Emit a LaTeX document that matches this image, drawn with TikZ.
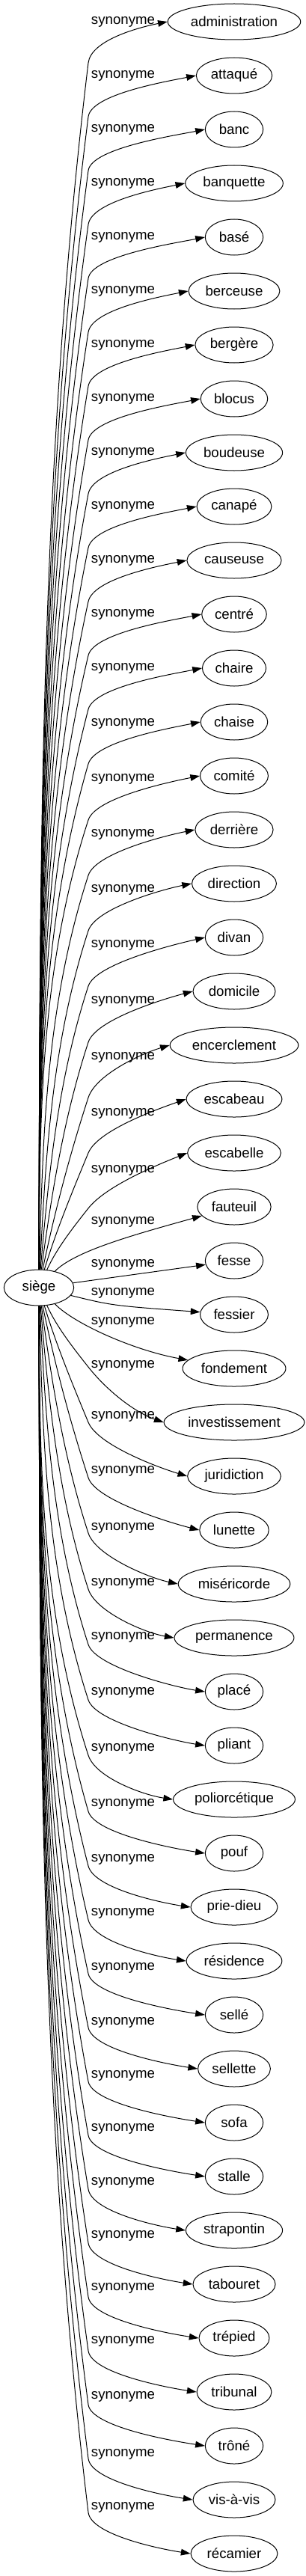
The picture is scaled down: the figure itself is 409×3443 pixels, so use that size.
\documentclass[tikz,border=0pt]{standalone}
\usepackage{fontspec}
\setmainfont{Liberation Sans}
\usepackage{tikz}
\usetikzlibrary{shapes}
\usetikzlibrary{arrows.meta}

\begin{document}
\begin{tikzpicture}[x=0.75pt,y=-0.75pt,
word/.style={draw,ellipse,line width=0.75pt,inner xsep=3.5pt,minimum width=58pt,minimum height=36pt,font=\fontsize{14pt}{17pt}\selectfont},
rel/.style={inner sep=0pt,font=\fontsize{14pt}{17pt}\selectfont},
syn/.style={line width=0.75pt,-{Triangle[length=9.5pt,width=6.5pt]}}]
\useasboundingbox (0,0) rectangle (409,3443);
\node[word,minimum width=70pt] (siege) at (52,1721) {siège};
\node[word] (administration) at (313,29) {administration};
\node[word] (attaque) at (313,101) {attaqué};
\node[word] (banc) at (313,173) {banc};
\node[word] (banquette) at (313,245) {banquette};
\node[word] (base) at (313,317) {basé};
\node[word] (berceuse) at (313,389) {berceuse};
\node[word] (bergere) at (313,461) {bergère};
\node[word] (blocus) at (313,533) {blocus};
\node[word] (boudeuse) at (313,605) {boudeuse};
\node[word] (canape) at (313,677) {canapé};
\node[word] (causeuse) at (313,749) {causeuse};
\node[word] (centre) at (313,821) {centré};
\node[word] (chaire) at (313,893) {chaire};
\node[word] (chaise) at (313,965) {chaise};
\node[word] (comite) at (313,1037) {comité};
\node[word] (derriere) at (313,1109) {derrière};
\node[word] (direction) at (313,1181) {direction};
\node[word] (divan) at (313,1253) {divan};
\node[word] (domicile) at (313,1325) {domicile};
\node[word] (encerclement) at (313,1397) {encerclement};
\node[word] (escabeau) at (313,1469) {escabeau};
\node[word] (escabelle) at (313,1541) {escabelle};
\node[word] (fauteuil) at (313,1613) {fauteuil};
\node[word] (fesse) at (313,1685) {fesse};
\node[word] (fessier) at (313,1757) {fessier};
\node[word] (fondement) at (313,1829) {fondement};
\node[word] (investissement) at (313,1901) {investissement};
\node[word] (juridiction) at (313,1973) {juridiction};
\node[word] (lunette) at (313,2045) {lunette};
\node[word] (misericorde) at (313,2117) {miséricorde};
\node[word] (permanence) at (313,2189) {permanence};
\node[word] (place) at (313,2261) {placé};
\node[word] (pliant) at (313,2333) {pliant};
\node[word] (poliorcetique) at (313,2405) {poliorcétique};
\node[word] (pouf) at (313,2477) {pouf};
\node[word] (priedieu) at (313,2549) {prie-dieu};
\node[word] (residence) at (313,2621) {résidence};
\node[word] (selle) at (313,2693) {sellé};
\node[word] (sellette) at (313,2765) {sellette};
\node[word] (sofa) at (313,2837) {sofa};
\node[word] (stalle) at (313,2909) {stalle};
\node[word] (strapontin) at (313,2981) {strapontin};
\node[word] (tabouret) at (313,3053) {tabouret};
\node[word] (trepied) at (313,3125) {trépied};
\node[word] (tribunal) at (313,3197) {tribunal};
\node[word] (trone) at (313,3269) {trôné};
\node[word] (visavis) at (313,3341) {vis-à-vis};
\node[word] (recamier) at (313,3413) {récamier};
\draw[syn] (siege) .. controls (53,1159) and (53,622) .. (118,84) .. controls +(3.6,-30) and +(-40,8) .. (administration.west);
\draw[syn] (siege) .. controls (53,1183) and (53,670) .. (118,156) .. controls +(3.8,-30) and +(-40,8) .. (attaque.west);
\draw[syn] (siege) .. controls (53,1207) and (53,718) .. (118,228) .. controls +(4,-30) and +(-40,8) .. (banc.west);
\draw[syn] (siege) .. controls (53,1231) and (53,766) .. (118,300) .. controls +(4.2,-30) and +(-40,8) .. (banquette.west);
\draw[syn] (siege) .. controls (53,1255) and (53,814) .. (118,372) .. controls +(4.4,-30) and +(-40,8) .. (base.west);
\draw[syn] (siege) .. controls (53,1279) and (53,862) .. (118,444) .. controls +(4.7,-30) and +(-40,8) .. (berceuse.west);
\draw[syn] (siege) .. controls (53,1303) and (53,910) .. (118,516) .. controls +(5,-30) and +(-40,8) .. (bergere.west);
\draw[syn] (siege) .. controls (53,1327) and (53,958) .. (118,588) .. controls +(5.3,-30) and +(-40,8) .. (blocus.west);
\draw[syn] (siege) .. controls (53,1351) and (53,1006) .. (118,660) .. controls +(5.6,-30) and +(-40,8) .. (boudeuse.west);
\draw[syn] (siege) .. controls (53,1375) and (53,1054) .. (118,732) .. controls +(6.1,-30) and +(-40,8) .. (canape.west);
\draw[syn] (siege) .. controls (53,1399) and (53,1102) .. (118,804) .. controls +(6.6,-30) and +(-40,8) .. (causeuse.west);
\draw[syn] (siege) .. controls (53,1423) and (53,1150) .. (118,876) .. controls +(7.1,-30) and +(-40,8) .. (centre.west);
\draw[syn] (siege) .. controls (53,1447) and (53,1198) .. (118,948) .. controls +(7.8,-30) and +(-40,8) .. (chaire.west);
\draw[syn] (siege) .. controls (53,1472) and (53,1246) .. (118,1021) .. controls +(8.7,-30) and +(-40,8) .. (chaise.west);
\draw[syn] (siege) .. controls (53,1497) and (53,1296) .. (118,1096) .. controls +(9.7,-30) and +(-40,8) .. (comite.west);
\draw[syn] (siege) .. controls (57,1521) and (61,1346) .. (118,1170) .. controls +(9.75,-30) and +(-40,8) .. (derriere.west);
\draw[syn] (siege) .. controls (61,1546) and (69,1395) .. (118,1244) .. controls +(9.75,-30) and +(-40,8) .. (direction.west);
\draw[syn] (siege) .. controls (65,1571) and (77,1444) .. (118,1318) .. controls +(9.75,-30) and +(-40,9) .. (divan.west);
\draw[syn] (siege) .. controls (69,1596) and (85,1494) .. (118,1393) .. controls +(9.75,-30) and +(-40,10.5) .. (domicile.west);
\draw[syn] (siege) .. controls (73,1620) and (93,1544) .. (118,1467) .. controls +(9.75,-30) and +(-40,12) .. (encerclement.west);
\draw[syn] (siege) .. controls (75,1645) and (96.5,1593) .. (118,1541) .. controls +(12.4,-30) and +(-40,14) .. (escabeau.west);
\draw[syn] (siege) .. controls (75,1670) and (96.5,1642) .. (118,1615) .. controls +(23.5,-30) and +(-40,16) .. (escabelle.west);
\draw[syn] (siege) .. controls (100,1672) and (180,1650) .. (fauteuil);
\draw[syn] (siege) -- (fesse);
\draw[syn] (siege) .. controls (150,1745) .. (fessier);
\draw[syn] (siege) .. controls (100,1770) and (180,1805) .. (fondement);
\draw[syn] (siege) .. controls (75,1772) and (96.5,1800) .. (118,1827) .. controls +(23.5,30) and +(-40,-14) .. (investissement.west);
\draw[syn] (siege) .. controls (75,1797) and (96.5,1849) .. (118,1901) .. controls +(12.4,30) and +(-40,-12) .. (juridiction.west);
\draw[syn] (siege) .. controls (73,1822) and (93,1898) .. (118,1975) .. controls +(9.75,30) and +(-40,-10) .. (lunette.west);
\draw[syn] (siege) .. controls (69,1846) and (85,1948) .. (118,2049) .. controls +(9.75,30) and +(-40,-8.5) .. (misericorde.west);
\draw[syn] (siege) .. controls (65,1871) and (77,1998) .. (118,2124) .. controls +(9.75,30) and +(-40,-7) .. (permanence.west);
\draw[syn] (siege) .. controls (61,1896) and (69,2047) .. (118,2198) .. controls +(9.75,30) and +(-40,-6) .. (place.west);
\draw[syn] (siege) .. controls (57,1921) and (61,2096) .. (118,2272) .. controls +(9.75,30) and +(-40,-6) .. (pliant.west);
\draw[syn] (siege) .. controls (53,1945) and (53,2146) .. (118,2346) .. controls +(9.7,30) and +(-40,-6) .. (poliorcetique.west);
\draw[syn] (siege) .. controls (53,1970) and (53,2196) .. (118,2421) .. controls +(8.7,30) and +(-40,-6) .. (pouf.west);
\draw[syn] (siege) .. controls (53,1995) and (53,2244) .. (118,2494) .. controls +(7.8,30) and +(-40,-6) .. (priedieu.west);
\draw[syn] (siege) .. controls (53,2019) and (53,2292) .. (118,2566) .. controls +(7.1,30) and +(-40,-6) .. (residence.west);
\draw[syn] (siege) .. controls (53,2043) and (53,2340) .. (118,2638) .. controls +(6.6,30) and +(-40,-6) .. (selle.west);
\draw[syn] (siege) .. controls (53,2067) and (53,2388) .. (118,2710) .. controls +(6.1,30) and +(-40,-6) .. (sellette.west);
\draw[syn] (siege) .. controls (53,2091) and (53,2436) .. (118,2782) .. controls +(5.6,30) and +(-40,-6) .. (sofa.west);
\draw[syn] (siege) .. controls (53,2115) and (53,2484) .. (118,2854) .. controls +(5.3,30) and +(-40,-6) .. (stalle.west);
\draw[syn] (siege) .. controls (53,2139) and (53,2532) .. (118,2926) .. controls +(5,30) and +(-40,-6) .. (strapontin.west);
\draw[syn] (siege) .. controls (53,2163) and (53,2580) .. (118,2998) .. controls +(4.7,30) and +(-40,-6) .. (tabouret.west);
\draw[syn] (siege) .. controls (53,2187) and (53,2628) .. (118,3070) .. controls +(4.4,30) and +(-40,-6) .. (trepied.west);
\draw[syn] (siege) .. controls (53,2211) and (53,2676) .. (118,3142) .. controls +(4.2,30) and +(-40,-6) .. (tribunal.west);
\draw[syn] (siege) .. controls (53,2235) and (53,2724) .. (118,3214) .. controls +(4,30) and +(-40,-6) .. (trone.west);
\draw[syn] (siege) .. controls (53,2259) and (53,2772) .. (118,3286) .. controls +(3.8,30) and +(-40,-6) .. (visavis.west);
\draw[syn] (siege) .. controls (53,2283) and (53,2820) .. (118,3358) .. controls +(3.6,30) and +(-40,-6) .. (recamier.west);
\node[rel] (s0) at (164.5,29) {synonyme};
\node[rel] (s1) at (164.5,101) {synonyme};
\node[rel] (s2) at (164.5,173) {synonyme};
\node[rel] (s3) at (164.5,245) {synonyme};
\node[rel] (s4) at (164.5,317) {synonyme};
\node[rel] (s5) at (164.5,389) {synonyme};
\node[rel] (s6) at (164.5,461) {synonyme};
\node[rel] (s7) at (164.5,533) {synonyme};
\node[rel] (s8) at (164.5,605) {synonyme};
\node[rel] (s9) at (164.5,677) {synonyme};
\node[rel] (s10) at (164.5,749) {synonyme};
\node[rel] (s11) at (164.5,821) {synonyme};
\node[rel] (s12) at (164.5,893) {synonyme};
\node[rel] (s13) at (164.5,967) {synonyme};
\node[rel] (s14) at (164.5,1041) {synonyme};
\node[rel] (s15) at (164.5,1115) {synonyme};
\node[rel] (s16) at (164.5,1189) {synonyme};
\node[rel] (s17) at (164.5,1263) {synonyme};
\node[rel] (s18) at (164.5,1338) {synonyme};
\node[rel] (s19) at (164.5,1413) {synonyme};
\node[rel] (s20) at (164.5,1488) {synonyme};
\node[rel] (s21) at (164.5,1564) {synonyme};
\node[rel] (s22) at (164.5,1633) {synonyme};
\node[rel] (s23) at (164.5,1690) {synonyme};
\node[rel] (s24) at (164.5,1728) {synonyme};
\node[rel] (s25) at (164.5,1767) {synonyme};
\node[rel] (s26) at (164.5,1825) {synonyme};
\node[rel] (s27) at (164.5,1893) {synonyme};
\node[rel] (s28) at (164.5,1966) {synonyme};
\node[rel] (s29) at (164.5,2042) {synonyme};
\node[rel] (s30) at (164.5,2116) {synonyme};
\node[rel] (s31) at (164.5,2188) {synonyme};
\node[rel] (s32) at (164.5,2262) {synonyme};
\node[rel] (s33) at (164.5,2337) {synonyme};
\node[rel] (s34) at (164.5,2411) {synonyme};
\node[rel] (s35) at (164.5,2485) {synonyme};
\node[rel] (s36) at (164.5,2557) {synonyme};
\node[rel] (s37) at (164.5,2630) {synonyme};
\node[rel] (s38) at (164.5,2703) {synonyme};
\node[rel] (s39) at (164.5,2774) {synonyme};
\node[rel] (s40) at (164.5,2845) {synonyme};
\node[rel] (s41) at (164.5,2917) {synonyme};
\node[rel] (s42) at (164.5,2988) {synonyme};
\node[rel] (s43) at (164.5,3058) {synonyme};
\node[rel] (s44) at (164.5,3129) {synonyme};
\node[rel] (s45) at (164.5,3203) {synonyme};
\node[rel] (s46) at (164.5,3280) {synonyme};
\node[rel] (s47) at (164.5,3351) {synonyme};
\end{tikzpicture}
\end{document}
